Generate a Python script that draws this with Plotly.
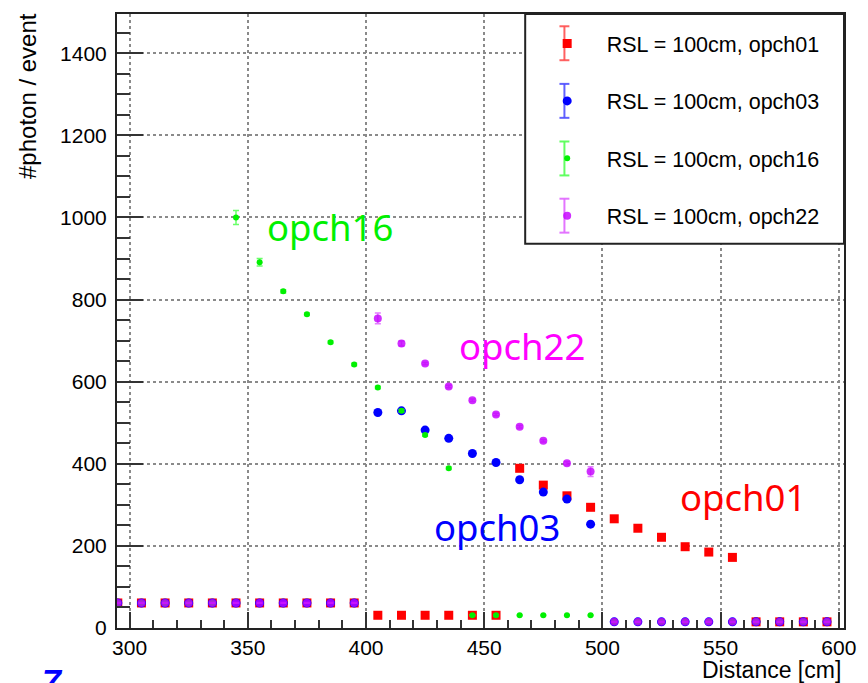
import plotly.graph_objects as go

# Source distance scan (cm)
distance = [295, 305, 315, 325, 335, 345, 355, 365, 375, 385, 395,
            405, 415, 425, 435, 445, 455, 465, 475, 485, 495,
            505, 515, 525, 535, 545, 555, 565, 575, 585, 595]

# Mean photons per event for each optical channel
opch01 = [61, 61, 61, 61, 61, 61, 61, 61, 61, 61, 61,
          31, 31, 31, 31, 31, 31, 389, 348, 322, 294,
          266, 243, 221, 198, 185, 172, 15, 15, 15, 15]
opch03 = [61, 61, 61, 61, 61, 61, 61, 61, 61, 61, 61,
          525, 529, 482, 462, 425, 403, 361, 331, 314, 253,
          15, 15, 15, 15, 15, 15, 15, 15, 15, 15]
opch16 = [61, 61, 61, 61, 61, 1000, 891, 820, 764, 696, 642,
          586, 529, 470, 389, 31, 31, 31, 31, 31, 31,
          15, 15, 15, 15, 15, 15, 15, 15, 15, 15]
opch22 = [61, 61, 61, 61, 61, 61, 61, 61, 61, 61, 61,
          754, 693, 644, 588, 555, 520, 490, 456, 401, 381,
          15, 15, 15, 15, 15, 15, 15, 15, 15, 15]

# Statistical uncertainties
err01 = [1] * 11 + [1] * 6 + [3, 3, 3, 3, 3, 3, 3, 3, 3, 3] + [1] * 4
err03 = [1] * 11 + [3, 3, 3, 3, 3, 3, 3, 3, 3, 3] + [1] * 10
err16 = [1] * 5 + [17, 9, 4, 3, 3, 3, 3, 3, 3, 3] + [1] * 6 + [1] * 10
err22 = [1] * 11 + [13, 6, 3, 3, 3, 3, 3, 3, 4, 12] + [1] * 10

labels = ["RSL = 100cm, opch01", "RSL = 100cm, opch03",
          "RSL = 100cm, opch16", "RSL = 100cm, opch22"]

# figure geometry (pixels)
FIG_W, FIG_H = 868, 683
ML, MR, MT, MB = 117, 19, 13, 55
PW, PH = FIG_W - ML - MR, FIG_H - MT - MB
X_RANGE = [294.66, 602.2]
Y_RANGE = [0, 1495.6]


def px(x):
    return (x - ML) / PW


def py(y):
    return (FIG_H - MB - y) / PH


series = [
    (opch01, err01, "#FF0000", "rgba(255,80,80,0.8)", "square", 9, 1.0),
    (opch03, err03, "#0000FF", "rgba(80,80,255,0.8)", "circle", 9, 1.0),
    (opch16, err16, "#00F000", "rgba(90,255,90,0.9)", "circle", 6, 1.0),
    (opch22, err22, "#C400FF", "rgba(225,110,255,0.9)", "circle", 8, 0.82),
]

fig = go.Figure()
for i, (vals, errs, col, ecol, sym, size, op) in enumerate(series):
    fig.add_trace(go.Scatter(
        x=distance, y=vals, mode="markers", name=labels[i],
        legendgroup=f"g{i}",
        marker=dict(symbol=sym, size=size, color=col, opacity=op, line=dict(width=0)),
        error_y=dict(type="data", array=errs, visible=True, color=ecol,
                     thickness=1.5, width=3),
    ))

axis_font = dict(family="Liberation Sans, Arial, sans-serif", size=21, color="#000000")

fig.update_xaxes(
    range=X_RANGE, tick0=300, dtick=50, ticks="inside", ticklen=16, tickwidth=1.5,
    tickcolor="#333333", showline=True, linecolor="#222222", linewidth=2, mirror=True,
    showgrid=True, gridcolor="#8a8a8a", griddash="dot", gridwidth=1.5,
    zeroline=False, tickfont=axis_font,
    minor=dict(ticks="inside", dtick=10, tick0=300, ticklen=8, tickwidth=1.5,
               tickcolor="#333333", showgrid=False),
)
fig.update_yaxes(
    range=Y_RANGE, tick0=0, dtick=200, ticks="inside", ticklen=26, tickwidth=1.5,
    tickcolor="#333333", showline=True, linecolor="#222222", linewidth=2, mirror=True,
    showgrid=True, gridcolor="#8a8a8a", griddash="dot", gridwidth=1.5,
    zeroline=False, tickfont=axis_font, ticklabelstandoff=4,
    minor=dict(ticks="inside", dtick=50, ticklen=13, tickwidth=1.5,
               tickcolor="#333333", showgrid=False),
)

# legend frame
shapes = [dict(type="rect", xref="paper", yref="paper", layer="above",
               x0=px(528), x1=1.0, y0=py(243), y1=1.0,
               line=dict(color="#222222", width=2), fillcolor="white")]

# error-bar glyphs beside each legend marker
leg_cx = 567.5
leg_cy = [42.3, 100.0, 157.7, 215.0]
leg_col = ["rgba(255,80,80,0.9)", "rgba(80,80,255,0.9)",
           "rgba(90,255,90,0.95)", "rgba(225,110,255,0.95)"]
for cy, c in zip(leg_cy, leg_col):
    shapes.append(dict(type="line", xref="paper", yref="paper", layer="above",
                       x0=px(leg_cx), x1=px(leg_cx), y0=py(cy - 17), y1=py(cy + 17),
                       line=dict(color=c, width=2)))
    for dy in (-17, 17):
        shapes.append(dict(type="line", xref="paper", yref="paper", layer="above",
                           x0=px(leg_cx - 5), x1=px(leg_cx + 5),
                           y0=py(cy + dy), y1=py(cy + dy),
                           line=dict(color=c, width=2)))

label_font = "Noto Sans, Open Sans, sans-serif"
annotations = [
    dict(x=384.6, y=976, xref="x", yref="y", text="opch16", showarrow=False,
         font=dict(family=label_font, size=36.5, color="#00F000")),
    dict(x=465.8, y=686, xref="x", yref="y", text="opch22", showarrow=False,
         font=dict(family=label_font, size=36.5, color="#FF00FF")),
    dict(x=455.2, y=246, xref="x", yref="y", text="opch03", showarrow=False,
         font=dict(family=label_font, size=36.5, color="#0000FF")),
    dict(x=559.5, y=320, xref="x", yref="y", text="opch01", showarrow=False,
         font=dict(family=label_font, size=36.5, color="#FF0000")),
    # axis titles, aligned to the far end of each axis
    dict(x=px(27), y=py(95.5), xref="paper", yref="paper", text="#photon / event",
         textangle=-90, showarrow=False, xanchor="center", yanchor="middle",
         font=dict(family="Liberation Sans, Arial, sans-serif", size=24, color="#000000")),
    dict(x=px(848), y=py(670), xref="paper", yref="paper", text="Distance [cm]",
         showarrow=False, xanchor="right", yanchor="middle",
         font=dict(family="Liberation Sans, Arial, sans-serif", size=23, color="#000000")),
    # page number peeking in at the bottom edge
    dict(x=px(39), y=py(660), xref="paper", yref="paper", text="<b><i>7</i></b>",
         showarrow=False, xanchor="left", yanchor="top",
         font=dict(family="Liberation Sans, Arial, sans-serif", size=34, color="#0000FF")),
]

fig.update_layout(
    width=FIG_W, height=FIG_H,
    margin=dict(l=ML, r=MR, t=MT, b=MB, pad=0),
    paper_bgcolor="white", plot_bgcolor="white",
    showlegend=True,
    legend=dict(x=px(530.5), y=py(22), xanchor="left", yanchor="top",
                bgcolor="rgba(0,0,0,0)", borderwidth=0, tracegroupgap=26.5,
                itemwidth=69,
                font=dict(family="Liberation Sans, Arial, sans-serif", size=21.5, color="#000000")),
    shapes=shapes, annotations=annotations,
)

fig.write_html("out.html")
